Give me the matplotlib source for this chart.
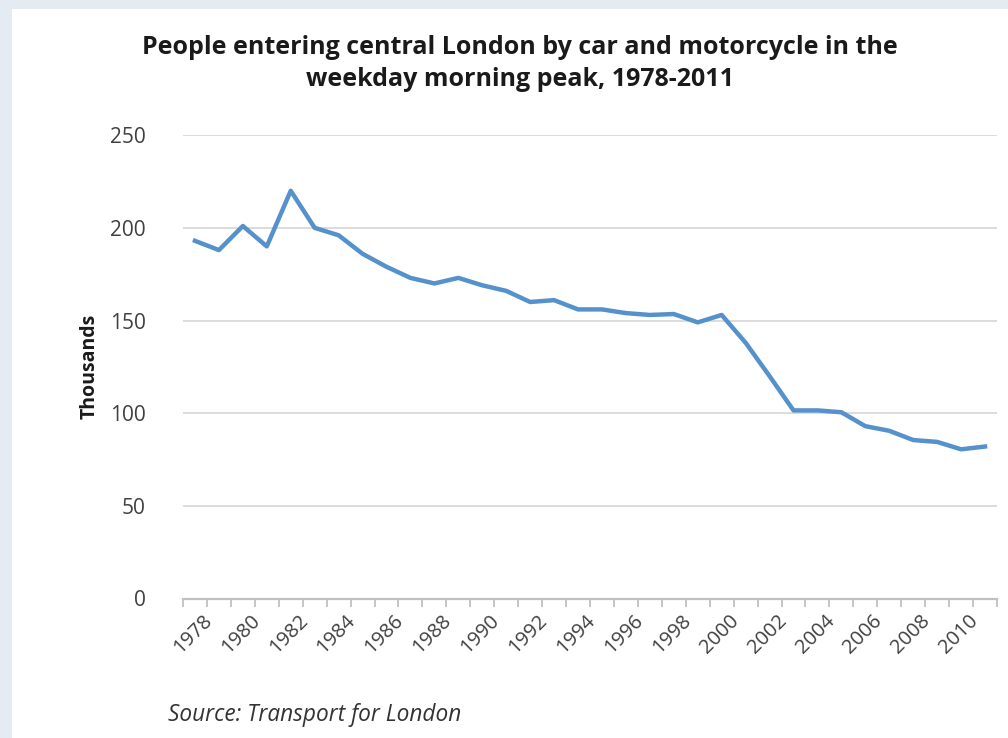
import matplotlib

matplotlib.use("Agg")
import matplotlib.pyplot as plt
from matplotlib.patches import Rectangle
from matplotlib.ticker import FixedLocator, NullFormatter
from matplotlib.transforms import ScaledTranslation

# ---------------------------------------------------------------------------
# Data (thousands of people, weekday morning peak)
# ---------------------------------------------------------------------------
years = list(range(1978, 2012))
people = [
    193, 188, 201, 190, 220, 200, 196, 186, 179, 173,
    170, 173, 169, 166, 160, 161, 156, 156, 154, 153,
    153.5, 149, 153, 138, 120, 101.5, 101.5, 100.5, 93, 90.5,
    85.5, 84.5, 80.5, 82,
]
y_ticks = [0, 50, 100, 150, 200, 250]
x_labels = [str(y) for y in years[::2]]

plt.rcParams["font.family"] = ["Open Sans", "DejaVu Sans"]

fig = plt.figure(figsize=(10.08, 7.38), dpi=100, facecolor="#e4ebf3")
W, H = 1008, 738
# white card behind everything
fig.patches.append(
    Rectangle((12 / W, 0), 1, 1 - 9 / H, transform=fig.transFigure,
              facecolor="white", edgecolor="none", zorder=-5)
)

left, right = 183 / W, 997 / W
bottom, top = 1 - 598.5 / H, 1 - 135.2 / H
ax = fig.add_axes([left, bottom, right - left, top - bottom])
ax.set_facecolor("none")

ax.plot(years, people, color="#5591cb", lw=3.2, solid_joinstyle="round", zorder=3)

ax.set_xlim(years[0] - 0.5, years[-1] + 0.5)
ax.set_ylim(0, 250)
ax.set_yticks(y_ticks)
ax.yaxis.grid(True, color="#d9d9d9", lw=1.3)
ax.set_axisbelow(True)

for s in ("top", "right", "left"):
    ax.spines[s].set_visible(False)
ax.spines["bottom"].set_color("#c0c0c0")
ax.spines["bottom"].set_linewidth(1.6)

ax.tick_params(axis="y", length=0, pad=27, labelsize=15, labelcolor="#404040")

# tick marks at category boundaries, labels every two years
ax.xaxis.set_major_locator(FixedLocator([y - 0.5 for y in years] + [years[-1] + 0.5]))
ax.xaxis.set_major_formatter(NullFormatter())
ax.tick_params(axis="x", which="major", length=6, width=1.3, color="#c0c0c0", direction="out")
ax.set_xticks(years[::2], minor=True)
ax.set_xticklabels(x_labels, minor=True, rotation=45, ha="right", rotation_mode="anchor")
ax.tick_params(axis="x", which="minor", length=0, pad=9, labelsize=14.5, labelcolor="#404040")
for lbl in ax.get_xticklabels(minor=True):
    lbl.set_transform(lbl.get_transform() + ScaledTranslation(7 / 100, 0, fig.dpi_scale_trans))

ax.set_ylabel("Thousands", fontsize=14, fontweight="bold", labelpad=7, color="#1a1a1a")

fig.text(0.516, 1 - 47 / H,
         "People entering central London by car and motorcycle in the",
         ha="center", va="center", fontsize=18, fontweight="bold", color="#1a1a1a")
fig.text(0.516, 1 - 80 / H, "weekday morning peak, 1978-2011",
         ha="center", va="center", fontsize=18, fontweight="bold", color="#1a1a1a")

fig.text(168 / W, 1 - 715 / H, "Source: Transport for London",
         ha="left", va="center", fontsize=16.3, style="italic", color="#333333")

fig.savefig("out.png", dpi=100, facecolor=fig.get_facecolor())
